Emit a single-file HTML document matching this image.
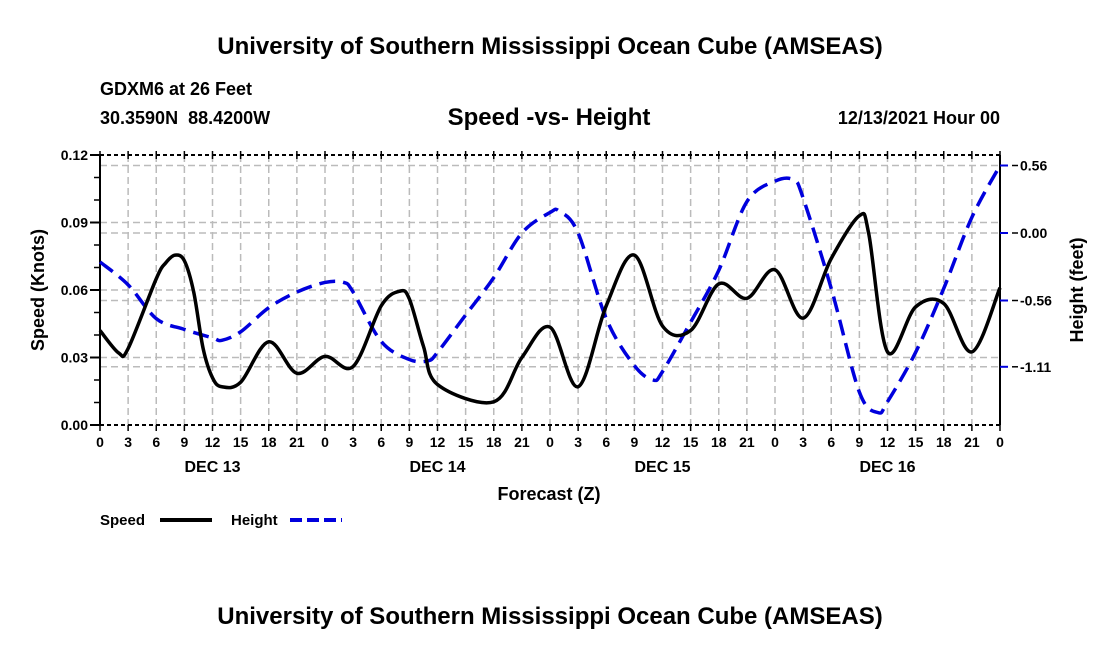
<!DOCTYPE html>
<html><head><meta charset="utf-8"><style>
body{margin:0;background:#fff;}
svg{display:block;font-family:"Liberation Sans",Arial,sans-serif;font-weight:bold;}
</style></head><body>
<svg id="chart" width="1100" height="650" viewBox="0 0 1100 650">
<text x="550" y="54" text-anchor="middle" font-size="24">University of Southern Mississippi Ocean Cube (AMSEAS)</text>
<text x="100" y="95" font-size="18">GDXM6 at 26 Feet</text>
<text x="100" y="124" font-size="18" xml:space="preserve">30.3590N  88.4200W</text>
<text x="549" y="125" text-anchor="middle" font-size="24">Speed -vs- Height</text>
<text x="1000" y="124" text-anchor="end" font-size="18">12/13/2021 Hour 00</text>
<g id="grid"></g><g id="axes"></g><g id="series"></g>
<text transform="translate(44,290) rotate(-90)" text-anchor="middle" font-size="18">Speed (Knots)</text>
<text transform="translate(1083,290) rotate(-90)" text-anchor="middle" font-size="18">Height (feet)</text>
<text x="549" y="500" text-anchor="middle" font-size="18">Forecast (Z)</text>
<g><text x="100" y="525" font-size="15">Speed</text><line x1="160" y1="520" x2="212" y2="520" stroke="#000" stroke-width="4"/></g>
<g><text x="231" y="525" font-size="15">Height</text><line x1="290" y1="520" x2="342" y2="520" stroke="#0000dd" stroke-width="4" stroke-dasharray="12,5"/></g>
<text x="550" y="624" text-anchor="middle" font-size="24">University of Southern Mississippi Ocean Cube (AMSEAS)</text>
</svg>
<script>
const speedHours=[0,2,3,6,7,8,9,10,11,12,13,15,18,21,24,27,30,32,33,34.5,36,42,45,48,51,54,57,60,63,66,69,72,75,78,81,82,84,87,90,93,96];
const speedValues=[0.042,0.032,0.034,0.065,0.072,0.0755,0.073,0.059,0.034,0.021,0.017,0.019,0.037,0.023,0.0305,0.026,0.053,0.0595,0.056,0.035,0.018,0.0103,0.030,0.0435,0.017,0.053,0.0755,0.044,0.042,0.0627,0.0563,0.069,0.0475,0.074,0.093,0.085,0.0325,0.0525,0.054,0.0325,0.061];
const heightHours=[0,3,6,9,12,13,15,18,21,24,26,27,30,33,35,36,39,42,45,48,49,51,54,57,59,60,63,66,69,72,74,75,78,81,83,84,87,90,93,96];
const heightValues=[-0.24,-0.43,-0.71,-0.80,-0.87,-0.89,-0.82,-0.62,-0.49,-0.41,-0.41,-0.49,-0.90,-1.05,-1.06,-0.99,-0.68,-0.37,0.0,0.17,0.18,0.0,-0.71,-1.10,-1.22,-1.15,-0.74,-0.31,0.26,0.43,0.44,0.29,-0.46,-1.32,-1.49,-1.40,-0.99,-0.46,0.13,0.56];
const leftTicks=[0,0.03,0.06,0.09,0.12];
const rightTicks=[0.56,0,-0.56,-1.11];
const rightTickLabels=["0.56","0.00","-0.56","-1.11"];
const xTickLabels=["0","3","6","9","12","15","18","21"];
const dayLabels=["DEC 13","DEC 14","DEC 15","DEC 16"];
const X0=100,X1=1000,Y0=425,Y1=155;
const xs=h=>X0+(X1-X0)*h/96;
const ys=v=>Y0-(Y0-Y1)*v/0.12;
const yh=v=>233-v*(67.5/0.56);
const NS="http://www.w3.org/2000/svg";
function mk(tag,attrs,parent,text){const e=document.createElementNS(NS,tag);for(const k in attrs)e.setAttribute(k,attrs[k]);if(text!==undefined)e.textContent=text;parent.appendChild(e);return e;}
const grid=document.getElementById('grid'),axes=document.getElementById('axes'),series=document.getElementById('series');
for(let h=3;h<96;h+=3){const l=mk('line',{x1:xs(h),x2:xs(h),y1:Y1,y2:Y0,stroke:'#bbb','stroke-width':1.5,'stroke-dasharray':'7,4'},grid);

}
leftTicks.forEach(v=>{if(v>0&&v<0.12){const l=mk('line',{x1:X0,x2:X1,y1:ys(v),y2:ys(v),stroke:'#bbb','stroke-width':1.5,'stroke-dasharray':'7,4'},grid);

}});
rightTicks.forEach(v=>{const l=mk('line',{x1:X0,x2:X1,y1:yh(v),y2:yh(v),stroke:'#bbb','stroke-width':1.5,'stroke-dasharray':'7,4'},grid);

});
mk('line',{x1:X0,x2:X0,y1:Y1,y2:Y0,stroke:'#000','stroke-width':2},axes);
mk('line',{x1:X1,x2:X1,y1:Y1,y2:Y0,stroke:'#000','stroke-width':2},axes);
mk('line',{x1:X0,x2:X1,y1:Y0,y2:Y0,stroke:'#000','stroke-width':2,'stroke-dasharray':'4,3'},axes);
mk('line',{x1:X0,x2:X1,y1:Y1,y2:Y1,stroke:'#000','stroke-width':2,'stroke-dasharray':'4,3'},axes);
for(let v=0;v<=0.1201;v+=0.01){mk('line',{x1:X0-6,x2:X0,y1:ys(v),y2:ys(v),stroke:'#000','stroke-width':1.5},axes);}
leftTicks.forEach(v=>{mk('line',{x1:X0-10,x2:X0,y1:ys(v),y2:ys(v),stroke:'#000','stroke-width':2},axes);
const t=mk('text',{x:X0-12,y:ys(v)+5,'text-anchor':'end','font-size':14},axes,v.toFixed(2));

});
rightTicks.forEach((v,i)=>{mk('line',{x1:X1,x2:X1+8,y1:yh(v),y2:yh(v),stroke:'#0000dd','stroke-width':2},axes);
mk('line',{x1:X1+12,x2:X1+18,y1:yh(v),y2:yh(v),stroke:'#000','stroke-width':1.5},axes);
const t=mk('text',{x:X1+20,y:yh(v)+5,'font-size':14},axes,rightTickLabels[i]);

});
for(let h=0;h<=96;h+=3){mk('line',{x1:xs(h),x2:xs(h),y1:Y0,y2:Y0+6,stroke:'#000','stroke-width':1.5},axes);
mk('line',{x1:xs(h),x2:xs(h),y1:Y1-4,y2:Y1+4,stroke:'#000','stroke-width':1.5},axes);
const t=mk('text',{x:xs(h),y:Y0+22,'text-anchor':'middle','font-size':14},axes,xTickLabels[(h/3)%8]);

}
dayLabels.forEach((d,i)=>{const t=mk('text',{x:xs(12+24*i),y:Y0+47,'text-anchor':'middle','font-size':16},axes,d);

});
function smooth(pts){let d='M'+pts[0][0]+','+pts[0][1];for(let i=0;i<pts.length-1;i++){const p0=pts[i-1]||pts[i],p1=pts[i],p2=pts[i+1],p3=pts[i+2]||p2;
const c1=[p1[0]+(p2[0]-p0[0])/6,p1[1]+(p2[1]-p0[1])/6],c2=[p2[0]-(p3[0]-p1[0])/6,p2[1]-(p3[1]-p1[1])/6];
d+=' C'+c1[0]+','+c1[1]+' '+c2[0]+','+c2[1]+' '+p2[0]+','+p2[1];}return d;}
const hp=mk('path',{d:smooth(heightHours.map((h,i)=>[xs(h),yh(heightValues[i])])),fill:'none',stroke:'#0000dd','stroke-width':3.5,'stroke-dasharray':'16,8'},series);


const sp=mk('path',{d:smooth(speedHours.map((h,i)=>[xs(h),ys(speedValues[i])])),fill:'none',stroke:'#000','stroke-width':3.5,'stroke-linejoin':'round'},series);


</script>
</body></html>
